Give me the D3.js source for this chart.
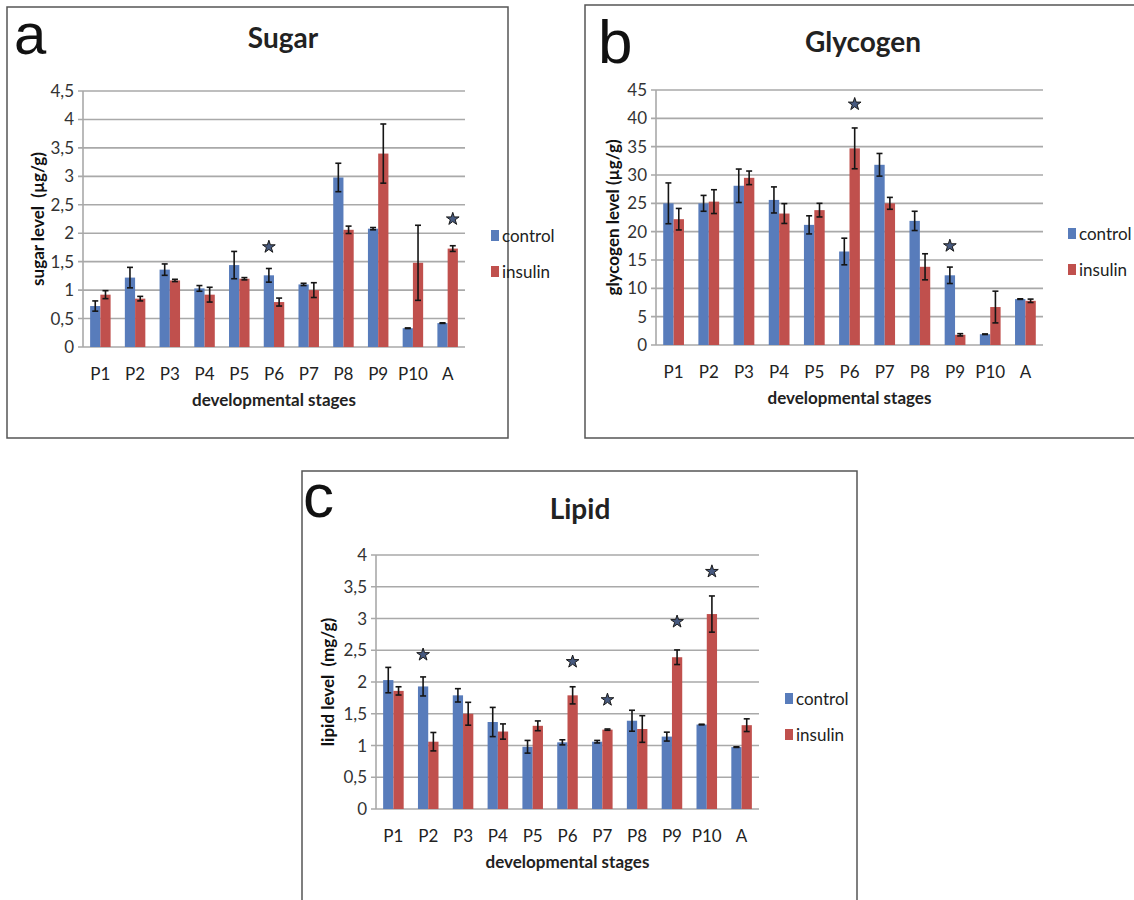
<!DOCTYPE html>
<html>
<head>
<meta charset="utf-8">
<script src="https://cdnjs.cloudflare.com/ajax/libs/d3/7.8.5/d3.min.js"></script>
<style>
  body { margin: 0; background: #fff; }
  text { font-family: Lato, "Open Sans", sans-serif; }
</style>
</head>
<body>
<script>
var stages = ["P1","P2","P3","P4","P5","P6","P7","P8","P9","P10","A"];
var seriesNames = ["control","insulin"];

// Sugar (µg/g)
var sugarControl    = [0.72, 1.22, 1.36, 1.03, 1.44, 1.26, 1.10, 2.98, 2.08, 0.33, 0.42];
var sugarControlErr = [0.09, 0.18, 0.10, 0.05, 0.24, 0.12, 0.02, 0.25, 0.02, 0.005, 0.005];
var sugarInsulin    = [0.92, 0.85, 1.17, 0.92, 1.20, 0.79, 1.00, 2.06, 3.40, 1.48, 1.73];
var sugarInsulinErr = [0.07, 0.04, 0.02, 0.13, 0.02, 0.07, 0.13, 0.065, 0.52, 0.66, 0.05];
var sugarStars = [{stage: "P6", series: "control", value: 1.76}, {stage: "A", series: "insulin", value: 2.25}];
var sugarTicks = [0, 0.5, 1, 1.5, 2, 2.5, 3, 3.5, 4, 4.5];

// Glycogen (µg/g)
var glycControl    = [25.0, 25.0, 28.1, 25.6, 21.2, 16.5, 31.8, 21.9, 12.3, 1.9, 8.1];
var glycControlErr = [3.6, 1.4, 2.95, 2.3, 1.6, 2.35, 2.0, 1.7, 1.45, 0.05, 0.05];
var glycInsulin    = [22.2, 25.3, 29.5, 23.2, 23.8, 34.7, 25.0, 13.8, 1.8, 6.7, 7.8];
var glycInsulinErr = [1.9, 2.1, 1.2, 1.75, 1.2, 3.6, 1.05, 2.3, 0.2, 2.8, 0.3];
var glycStars = [{stage: "P6", series: "insulin", value: 42.5}, {stage: "P9", series: "control", value: 17.5}];
var glycTicks = [0, 5, 10, 15, 20, 25, 30, 35, 40, 45];

// Lipid (mg/g)
var lipidControl    = [2.03, 1.93, 1.79, 1.37, 0.98, 1.05, 1.06, 1.39, 1.14, 1.33, 0.975];
var lipidControlErr = [0.2, 0.15, 0.105, 0.23, 0.1, 0.04, 0.02, 0.165, 0.07, 0.005, 0.005];
var lipidInsulin    = [1.86, 1.06, 1.50, 1.22, 1.31, 1.79, 1.25, 1.26, 2.39, 3.07, 1.32];
var lipidInsulinErr = [0.065, 0.145, 0.18, 0.12, 0.077, 0.135, 0.01, 0.21, 0.115, 0.285, 0.1];
var lipidStars = [{stage: "P2", series: "control", value: 2.43}, {stage: "P6", series: "insulin", value: 2.32},
                  {stage: "P7", series: "insulin", value: 1.72}, {stage: "P9", series: "insulin", value: 2.95},
                  {stage: "P10", series: "insulin", value: 3.74}];
var lipidTicks = [0, 0.5, 1, 1.5, 2, 2.5, 3, 3.5, 4];

var colors = {control: "#587cbb", insulin: "#c0504d"};

var svg = d3.select("body").append("svg")
    .attr("width", 1134)
    .attr("height", 900);

var fmt = function(v){ return String(v).replace(".", ","); };

function drawPanel(opt) {
  var g = svg.append("g");

  g.append("rect")
      .attr("x", opt.box[0]).attr("y", opt.box[1])
      .attr("width", opt.box[2]).attr("height", opt.box[3])
      .attr("fill", "#fff")
      .attr("stroke", "#555")
      .attr("stroke-width", 1.5);

  g.append("text")
      .attr("x", opt.letter[0]).attr("y", opt.letter[1])
      .attr("font-size", opt.letter[2] + "px")
      .style("font-family", "'Liberation Sans', Arial, sans-serif")
      .attr("fill", "#111")
      .text(opt.letterText);

  g.append("text")
      .attr("x", opt.title[0]).attr("y", opt.title[1])
      .attr("text-anchor", "middle")
      .attr("font-size", "28px")
      .attr("font-weight", "bold")
      .attr("fill", "#222")
      .text(opt.titleText);

  var x = d3.scaleBand()
      .domain(stages)
      .range([opt.plot[0], opt.plot[1]]);

  var y = d3.scaleLinear()
      .domain([0, opt.ticks[opt.ticks.length - 1]])
      .range([opt.plot[3], opt.plot[2]]);

  var bw = x.bandwidth() * 0.295;
  var sub = d3.scaleBand()
      .domain(seriesNames)
      .range([x.bandwidth() / 2 - bw, x.bandwidth() / 2 + bw]);

  // grid lines
  g.append("g")
      .selectAll("line")
      .data(opt.ticks)
      .enter()
      .append("line")
      .attr("x1", opt.plot[0] - 5)
      .attr("x2", opt.plot[1])
      .attr("y1", function(d){ return y(d); })
      .attr("y2", function(d){ return y(d); })
      .attr("stroke", "#a9a9a9")
      .attr("stroke-width", 1.6);

  g.append("line")
      .attr("x1", opt.plot[0]).attr("x2", opt.plot[0])
      .attr("y1", opt.plot[2]).attr("y2", opt.plot[3])
      .attr("stroke", "#a9a9a9")
      .attr("stroke-width", 1.6);

  // tick labels
  g.append("g")
      .selectAll("text")
      .data(opt.ticks)
      .enter()
      .append("text")
      .attr("x", opt.plot[0] - 9)
      .attr("y", function(d){ return y(d) + 6; })
      .attr("text-anchor", "end")
      .attr("font-size", "17px")
      .attr("fill", "#333")
      .text(fmt);

  g.append("g")
      .selectAll("text")
      .data(stages)
      .enter()
      .append("text")
      .attr("x", function(d){ return x(d) + x.bandwidth() / 2; })
      .attr("y", opt.plot[3] + 33)
      .attr("text-anchor", "middle")
      .attr("font-size", "17px")
      .attr("fill", "#222")
      .text(function(d){ return d; });

  // bars
  var rows = stages.map(function(s, i){
    return [
      {stage: s, series: "control", value: opt.control[i], err: opt.controlErr[i]},
      {stage: s, series: "insulin", value: opt.insulin[i], err: opt.insulinErr[i]}
    ];
  });
  var flat = d3.merge(rows);

  g.append("g")
      .selectAll("rect")
      .data(flat)
      .enter()
      .append("rect")
      .attr("x", function(d){ return x(d.stage) + sub(d.series); })
      .attr("width", sub.bandwidth())
      .attr("y", function(d){ return y(d.value); })
      .attr("height", function(d){ return y(0) - y(d.value); })
      .attr("fill", function(d){ return colors[d.series]; });

  // error bars
  var eb = g.append("g")
      .attr("stroke", "#151515")
      .attr("stroke-width", 1.6)
      .selectAll("g")
      .data(flat)
      .enter()
      .append("g");

  var cx = function(d){ return x(d.stage) + sub(d.series) + sub.bandwidth() / 2; };

  eb.append("line")
      .attr("x1", cx).attr("x2", cx)
      .attr("y1", function(d){ return y(d.value + d.err); })
      .attr("y2", function(d){ return y(d.value - d.err); });
  eb.append("line")
      .attr("x1", function(d){ return cx(d) - 3; })
      .attr("x2", function(d){ return cx(d) + 3; })
      .attr("y1", function(d){ return y(d.value + d.err); })
      .attr("y2", function(d){ return y(d.value + d.err); });
  eb.append("line")
      .attr("x1", function(d){ return cx(d) - 3; })
      .attr("x2", function(d){ return cx(d) + 3; })
      .attr("y1", function(d){ return y(d.value - d.err); })
      .attr("y2", function(d){ return y(d.value - d.err); });

  // significance stars
  g.append("g")
      .selectAll("path")
      .data(opt.stars)
      .enter()
      .append("path")
      .attr("d", d3.symbol(d3.symbolStar, 50))
      .attr("transform", function(d){
        return "translate(" + cx(d) + "," + y(d.value) + ")";
      })
      .attr("fill", "#475a80")
      .attr("stroke", "#1a1a1a")
      .attr("stroke-width", 1);

  // axis titles
  g.append("text")
      .attr("transform", "translate(" + opt.ytitleX + "," + (opt.plot[2] + opt.plot[3]) / 2 + ") rotate(-90)")
      .attr("text-anchor", "middle")
      .attr("font-size", "17px")
      .attr("font-weight", "bold")
      .attr("fill", "#111")
      .style("white-space", "pre")
      .text(opt.ytitle);

  g.append("text")
      .attr("x", (opt.plot[0] + opt.plot[1]) / 2)
      .attr("y", opt.plot[3] + 59)
      .attr("text-anchor", "middle")
      .attr("font-size", "17px")
      .attr("font-weight", "bold")
      .attr("fill", "#222")
      .text("developmental stages");

  // legend
  var lg = g.append("g")
      .selectAll("g")
      .data(seriesNames)
      .enter()
      .append("g")
      .attr("transform", function(d, i){
        return "translate(" + opt.legend[0] + "," + (opt.legend[1] + i * 36) + ")";
      });
  lg.append("rect")
      .attr("x", 0).attr("y", -6)
      .attr("width", 8).attr("height", 11)
      .attr("fill", function(d){ return colors[d]; });
  lg.append("text")
      .attr("x", 11).attr("y", 6)
      .attr("font-size", "17px")
      .attr("fill", "#222")
      .text(function(d){ return d; });
}

drawPanel({
  box: [7, 7, 501, 431], letterText: "a", letter: [14, 54, 58],
  titleText: "Sugar", title: [283, 48],
  plot: [83, 465, 91, 347], ticks: sugarTicks,
  control: sugarControl, controlErr: sugarControlErr,
  insulin: sugarInsulin, insulinErr: sugarInsulinErr,
  stars: sugarStars, ytitleX: 44, ytitle: "sugar level  (\u00b5g/g)",
  legend: [491, 236]
});

drawPanel({
  box: [585, 5, 560, 433], letterText: "b", letter: [598, 63, 62],
  titleText: "Glycogen", title: [863, 52],
  plot: [656, 1043, 90, 345], ticks: glycTicks,
  control: glycControl, controlErr: glycControlErr,
  insulin: glycInsulin, insulinErr: glycInsulinErr,
  stars: glycStars, ytitleX: 619, ytitle: "glycogen level (\u00b5g/g)",
  legend: [1068, 234]
});

drawPanel({
  box: [302, 471, 555, 440], letterText: "c", letter: [303, 517, 62],
  titleText: "Lipid", title: [580, 519],
  plot: [376, 759, 555, 809], ticks: lipidTicks,
  control: lipidControl, controlErr: lipidControlErr,
  insulin: lipidInsulin, insulinErr: lipidInsulinErr,
  stars: lipidStars, ytitleX: 334, ytitle: "lipid level  (mg/g)",
  legend: [785, 699]
});
</script>
</body>
</html>
